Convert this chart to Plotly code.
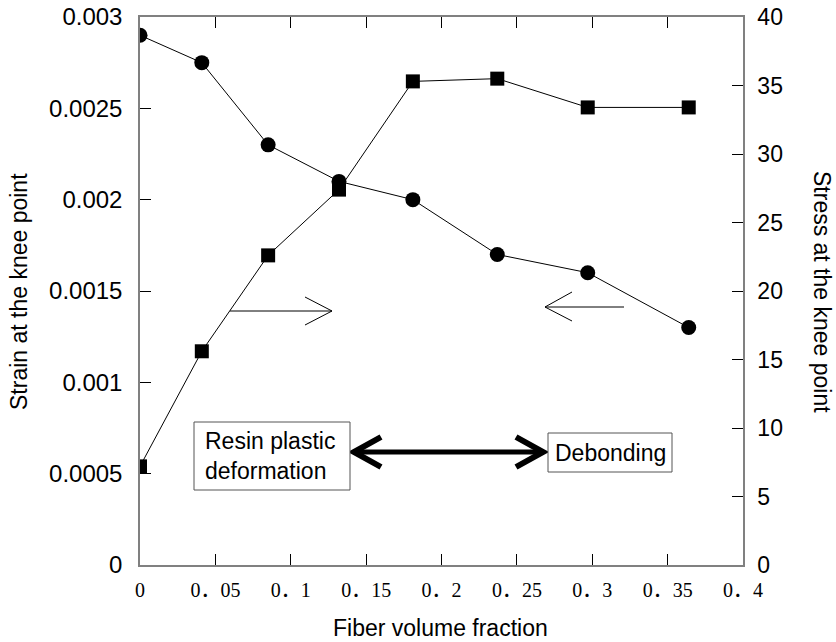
import plotly.graph_objects as go

# ---- data ----
fiber_fraction = [0.0, 0.041, 0.085, 0.132, 0.181, 0.237, 0.297, 0.364]
strain_knee = [0.0029, 0.00275, 0.0023, 0.0021, 0.0020, 0.0017, 0.0016, 0.0013]
stress_knee = [7.2, 15.6, 22.6, 27.4, 35.3, 35.5, 33.4, 33.4]

x_tickvals = [0, 0.05, 0.1, 0.15, 0.2, 0.25, 0.3, 0.35, 0.4]
x_ticktext = ["0", "0．05", "0．1", "0．15", "0．2", "0．25", "0．3", "0．35", "0．4"]
y1_tickvals = [0, 0.0005, 0.001, 0.0015, 0.002, 0.0025, 0.003]
y1_ticktext = ["0", "0.0005", "0.001", "0.0015", "0.002", "0.0025", "0.003"]
y2_tickvals = [0, 5, 10, 15, 20, 25, 30, 35, 40]
y2_ticktext = [str(v) for v in y2_tickvals]

# ---- layout geometry (window pixels; body margin removed by post_script) ----
W, H = 836, 642
L, R, T, B = 140, 743, 17, 565


def px(xp):
    return (xp - L) / (R - L)


def py(yp):
    return (B - yp) / (B - T)


SANS = "Liberation Sans, Arial, sans-serif"
SERIF = "Liberation Serif, Noto Sans CJK SC, serif"

fig = go.Figure()
fig.add_trace(go.Scatter(
    x=fiber_fraction, y=strain_knee, mode="lines+markers",
    line=dict(color="black", width=1),
    marker=dict(symbol="circle", size=15, color="black"),
    yaxis="y", showlegend=False))
fig.add_trace(go.Scatter(
    x=fiber_fraction, y=stress_knee, mode="lines+markers",
    line=dict(color="black", width=1),
    marker=dict(symbol="square", size=14, color="black"),
    yaxis="y2", showlegend=False))

axis_common = dict(showgrid=False, zeroline=False, showline=True, automargin=False,
                   linecolor="#808080", linewidth=1.5, ticklabeloverflow="allow",
                   ticks="inside", ticklen=11, tickwidth=1, tickcolor="black")

fig.update_layout(
    width=W, height=H,
    margin=dict(l=L, r=W - R, t=T, b=H - B, autoexpand=False),
    paper_bgcolor="white", plot_bgcolor="white",
    xaxis=dict(range=[0, 0.4], tickvals=x_tickvals, ticktext=x_ticktext,
               mirror="ticks", tickfont=dict(family=SERIF, size=20, color="black"),
               ticklabelstandoff=6, **axis_common),
    yaxis=dict(range=[0, 0.003], tickvals=y1_tickvals, ticktext=y1_ticktext,
               tickfont=dict(family=SANS, size=24, color="black"),
               ticklabelstandoff=11, **axis_common),
    yaxis2=dict(range=[0, 40], tickvals=y2_tickvals, ticktext=y2_ticktext,
                overlaying="y", side="right",
                tickfont=dict(family=SANS, size=23, color="black"),
                ticklabelstandoff=8, **axis_common),
)

shapes = []
ann = []


def label(text, x, y, angle=0, xanchor="center", align="center"):
    ann.append(dict(text=text, x=px(x), y=py(y), xref="paper", yref="paper",
                    xanchor=xanchor, yanchor="middle", align=align,
                    showarrow=False, textangle=angle,
                    font=dict(family=SANS, size=23, color="black")))


# axis titles
label("Fiber volume fraction", 440, 628)
label("Strain at the knee point", 19, 292, angle=-90)
label("Stress at the knee point", 822, 292, angle=90)


def seg(x0, y0, x1, y1, w=1):
    shapes.append(dict(type="line", xref="paper", yref="paper",
                       x0=px(x0), y0=py(y0), x1=px(x1), y1=py(y1),
                       line=dict(color="black", width=w)))


# thin arrow pointing right (towards stress axis)
seg(230, 311, 332, 311)
seg(305, 297, 332, 311)
seg(305, 325, 332, 311)
# thin arrow pointing left (towards strain axis)
seg(545, 307, 624, 307)
seg(572, 292, 545, 307)
seg(572, 321, 545, 307)

# thick double arrow
seg(354, 452, 543, 452, w=5)
shapes.append(dict(type="path", xref="paper", yref="paper",
                   path=f"M {px(381)},{py(437)} L {px(354)},{py(452)} L {px(381)},{py(467)}",
                   line=dict(color="black", width=6)))
shapes.append(dict(type="path", xref="paper", yref="paper",
                   path=f"M {px(516)},{py(437)} L {px(543)},{py(452)} L {px(516)},{py(467)}",
                   line=dict(color="black", width=6)))

# text boxes
shapes.append(dict(type="rect", xref="paper", yref="paper",
                   x0=px(194), y0=py(490), x1=px(350), y1=py(422),
                   line=dict(color="#555555", width=1), fillcolor="white"))
shapes.append(dict(type="rect", xref="paper", yref="paper",
                   x0=px(548), y0=py(472), x1=px(672), y1=py(433),
                   line=dict(color="#555555", width=1), fillcolor="white"))
label("Resin plastic<br>deformation", 203, 456, xanchor="left", align="left")
label("Debonding", 610, 453)

fig.update_layout(shapes=shapes, annotations=ann)
fig.write_html("out.html", config={"displayModeBar": False},
               post_script="document.body.style.margin='0';")
